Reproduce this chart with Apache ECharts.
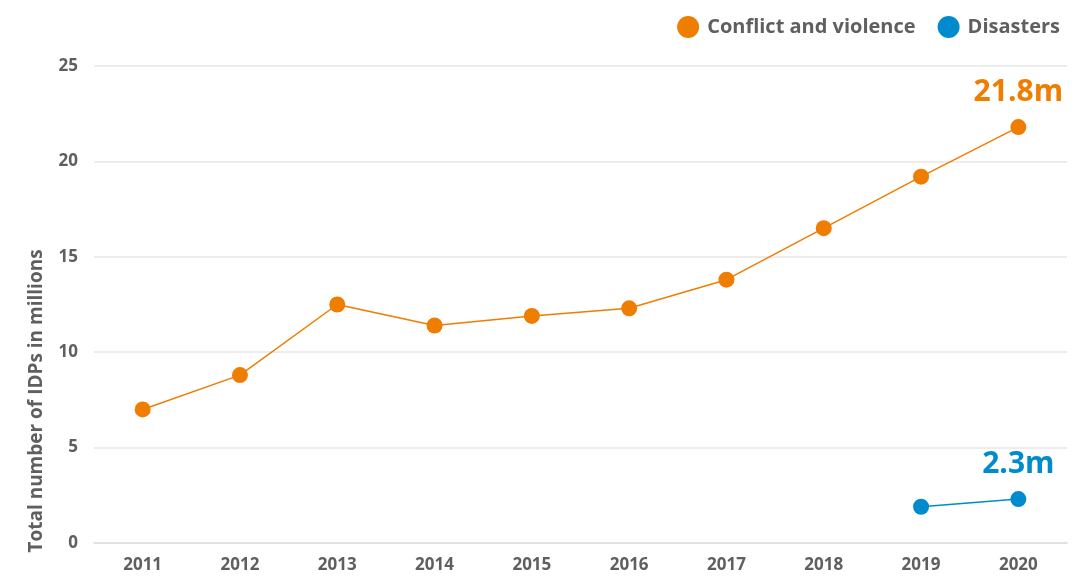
<!DOCTYPE html>
<html><head><meta charset="utf-8">
<script src="https://cdn.jsdelivr.net/npm/echarts@6/dist/echarts.min.js"></script>
<style>html,body{margin:0;padding:0;background:#fff}#c{width:1091px;height:583px}</style>
</head><body><div id="c"></div>
<script>
const years = ['2011','2012','2013','2014','2015','2016','2017','2018','2019','2020'];
const conflict = [7.0, 8.8, 12.5, 11.4, 11.9, 12.3, 13.8, 16.5, 19.2, 21.8];
const disasters = [null, null, null, null, null, null, null, null, 1.9, 2.3];
const yTicks = [0, 5, 10, 15, 20, 25];
const endLabels = ['21.8m', '2.3m'];
const ORANGE = '#EF7D00', BLUE = '#008BCE', GREY = '#5f5f5f';
const FONT = 'Open Sans';

const chart = echarts.init(document.getElementById('c'));
function endLabel(text, color){
  return {show:true, position:'top', distance:12, formatter:(p)=> p.dataIndex===years.length-1 ? text : '',
    color, fontFamily:FONT, fontWeight:'bold', fontSize:30};
}
chart.setOption({
  animation:false,
  textStyle:{fontFamily:FONT},
  legend:{right:26, top:11, icon:'circle', itemWidth:22, itemHeight:22, itemGap:22,
    textStyle:{fontFamily:FONT, fontWeight:'bold', fontSize:20, color:GREY, padding:[0,0,0,3]},
    data:['Conflict and violence','Disasters']},
  grid:{left:94, right:24, top:66, bottom:40, containLabel:false},
  xAxis:{type:'category', data:years, boundaryGap:true,
    axisLine:{lineStyle:{color:'#dddddd', width:1.5}},
    axisTick:{inside:true, length:11, lineStyle:{color:'#dddddd'}},
    axisLabel:{color:GREY, fontFamily:FONT, fontWeight:'bold', fontSize:17, margin:14}},
  yAxis:{type:'value', min:yTicks[0], max:yTicks[yTicks.length-1], interval:5,
    axisLine:{show:false}, axisTick:{show:false},
    splitLine:{lineStyle:{color:'#e6e6e6', width:1.5}},
    axisLabel:{color:GREY, fontFamily:FONT, fontWeight:'bold', fontSize:17, margin:16}},
  graphic:[{type:'text', x:37, y:401, rotation:Math.PI/2,
    style:{text:'Total number of IDPs in millions', fill:GREY, font:'bold 19px "Open Sans"', align:'center', verticalAlign:'middle'}}],
  series:[
    {name:'Conflict and violence', type:'line', data:conflict, symbol:'circle', symbolSize:16,
      itemStyle:{color:ORANGE}, lineStyle:{color:ORANGE, width:1.5}, label:endLabel(endLabels[0], ORANGE)},
    {name:'Disasters', type:'line', data:disasters, symbol:'circle', symbolSize:16,
      itemStyle:{color:BLUE}, lineStyle:{color:BLUE, width:1.5}, label:endLabel(endLabels[1], BLUE)}
  ]
});
</script></body></html>
